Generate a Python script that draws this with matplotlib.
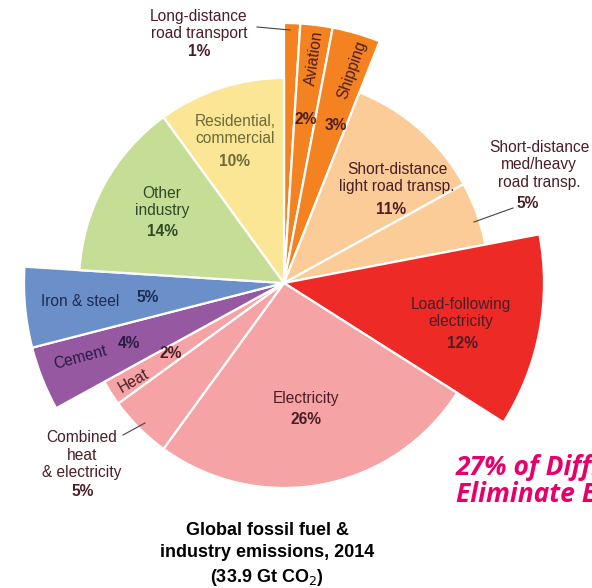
import matplotlib.pyplot as plt

# Sectors, clockwise from 12 o'clock
sectors = ['Long-distance road transport', 'Aviation', 'Shipping',
           'Short-distance light road transp.', 'Short-distance med/heavy road transp.',
           'Load-following electricity', 'Electricity', 'Combined heat & electricity',
           'Heat', 'Cement', 'Iron & steel', 'Other industry', 'Residential, commercial']
shares = [1, 2, 3, 11, 5, 12, 26, 5, 2, 4, 5, 14, 10]
difficult = [True, True, True, False, False, True, False, False, False, True, True, False, False]
colors = ['#F58220', '#F58220', '#F58220', '#FBCB98', '#FBCB98', '#EE2A26',
          '#F5A3A5', '#F5A3A5', '#F5A3A5', '#9659A1', '#6B8FC8', '#C5DD95', '#FBE695']

W, H = 592, 588
fig = plt.figure(figsize=(W / 100, H / 100), dpi=100)
ax = fig.add_axes([0, 0, 1, 1])

cx, cy = 284, H - 283
wedges, _ = ax.pie(shares, colors=colors, startangle=90, counterclock=False,
                   radius=205, center=(cx, cy), frame=True,
                   wedgeprops=dict(edgecolor='white', linewidth=1.6))
for w, d in zip(wedges, difficult):
    if d:
        w.set_radius(260)
ax.set_xlim(0, W)
ax.set_ylim(0, H)
ax.axis('off')

plt.rcParams['font.family'] = ['Liberation Sans', 'DejaVu Sans']
brown = '#4A1E26'
fs = 11.2


def lab(x, y, s, color=brown, bold=False, rot=0, size=fs):
    ax.text(x, H - y, s, ha='center', va='center', fontsize=size, color=color,
            fontweight='bold' if bold else 'normal', rotation=rot, linespacing=1.2)


lab(199, 25, 'Long-distance\nroad transport')
lab(199, 52, '1%', bold=True)
ax.plot([257, 290], [H - 27, H - 30], color='#444444', lw=0.8)

lab(314, 58, 'Aviation', rot=82)
lab(306, 120, '2%', bold=True)
lab(352, 70, 'Shipping', rot=71)
lab(336, 125, '3%', bold=True)

lab(397, 178, 'Short-distance\nlight road transp.')
lab(391, 209, '11%', bold=True)

lab(539, 165, 'Short-distance\nmed/heavy\nroad transp.')
lab(528, 203, '5%', bold=True)
ax.plot([474, 513], [H - 222, H - 208], color='#444444', lw=0.8)

lab(461, 313, 'Load-following\nelectricity')
lab(463, 343, '12%', bold=True)

lab(306, 398, 'Electricity')
lab(306, 420, '26%', bold=True)

lab(82, 455, 'Combined\nheat\n& electricity')
lab(83, 492, '5%', bold=True)
ax.plot([123, 145], [H - 435, H - 423], color='#444444', lw=0.8)

lab(134, 381, 'Heat', rot=30)
lab(171, 354, '2%', bold=True)

lab(80, 358, 'Cement', color='#2A1A45', rot=15)
lab(129, 343, '4%', color='#2A1A45', bold=True)

lab(80, 301, 'Iron & steel', color='#1F2A4F')
lab(148, 298, '5%', color='#1F2A4F', bold=True)

lab(162, 202, 'Other\nindustry', color='#2F4A2A')
lab(162, 232, '14%', color='#2F4A2A', bold=True)

lab(235, 130, 'Residential,\ncommercial', color='#6E6A3A')
lab(235, 162, '10%', color='#6E6A3A', bold=True)

ax.text(267, H - 555, 'Global fossil fuel &\nindustry emissions, 2014\n(33.9 Gt CO$_2$)',
        ha='center', va='center', fontsize=13, fontweight='bold', color='black',
        linespacing=1.4)

ax.text(456, H - 481, '27% of Difficult-to-\nEliminate Emissions', ha='left', va='center',
        fontsize=19, fontweight='bold', style='italic', color='#E8006A',
        family=['Open Sans', 'DejaVu Sans'], linespacing=1.0)

fig.savefig('out.png', dpi=100)
